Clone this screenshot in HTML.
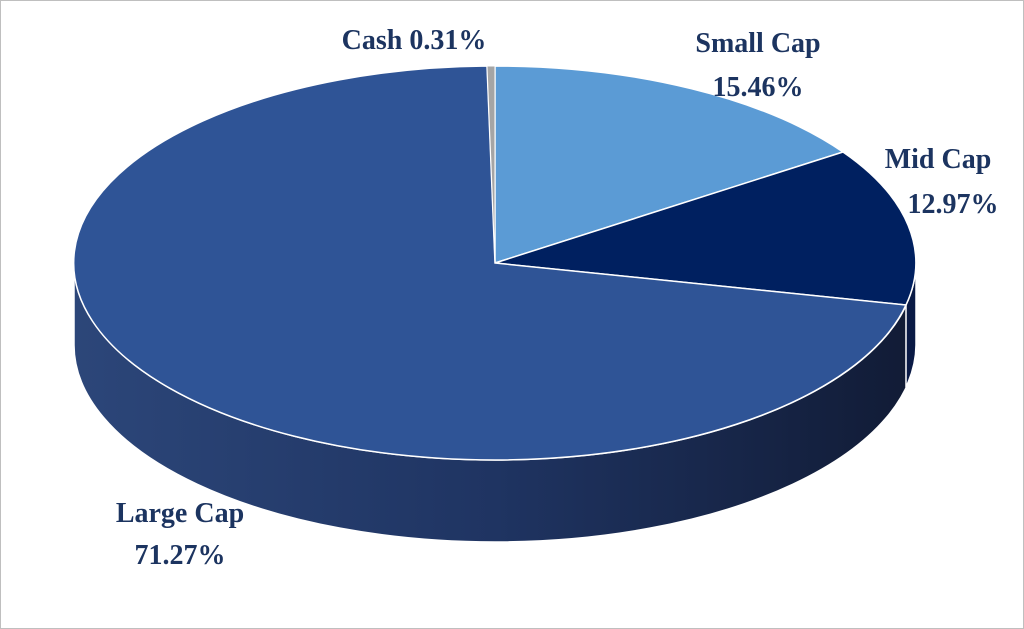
<!DOCTYPE html>
<html><head><meta charset="utf-8"><style>
html,body{margin:0;padding:0;background:#fff;}
svg{display:block;}
text{font-family:"Liberation Serif",serif;font-weight:bold;fill:#1c3460;font-size:28px;}
</style></head><body>
<svg width="1024" height="629" viewBox="0 0 1024 629">
<defs>
<linearGradient id="side" x1="74" y1="0" x2="916" y2="0" gradientUnits="userSpaceOnUse">
<stop offset="0" stop-color="#2c4679"/>
<stop offset="0.5" stop-color="#1f3462"/>
<stop offset="1" stop-color="#111b35"/>
</linearGradient>
</defs>
<rect x="0.5" y="0.5" width="1023" height="628" fill="#fff" stroke="#bfbfbf"/>
<path d="M74,263 A421,197 0 0 0 916,263 L916,345 A421,197 0 0 1 74,345 Z" fill="url(#side)" stroke="#fff" stroke-width="1.5"/>
<path d="M916,263 A421,197 0 0 1 906,305 L906,387 A421,197 0 0 0 916,345 Z" fill="#0a1a45" stroke="#fff" stroke-width="1.5"/>
<path d="M495,263 L495,66 A421,197 0 0 1 843,152 Z" fill="#5b9bd5" stroke="#fff" stroke-width="1.5"/>
<path d="M495,263 L843,152 A421,197 0 0 1 906,305 Z" fill="#002060" stroke="#fff" stroke-width="1.5"/>
<path d="M495,263 L906,305 A421,197 0 1 1 487,66 Z" fill="#2f5496" stroke="#fff" stroke-width="1.5"/>
<path d="M495,263 L487,66 A421,197 0 0 1 495,66 Z" fill="#a5a5a5" stroke="#fff" stroke-width="1"/>
<text x="414" y="49" text-anchor="middle">Cash 0.31%</text>
<text x="758" y="52" text-anchor="middle">Small Cap</text>
<text x="758" y="96" text-anchor="middle">15.46%</text>
<text x="938" y="168" text-anchor="middle">Mid Cap</text>
<text x="953" y="213" text-anchor="middle">12.97%</text>
<text x="180" y="522" text-anchor="middle">Large Cap</text>
<text x="180" y="564" text-anchor="middle">71.27%</text>
</svg>
</body></html>
